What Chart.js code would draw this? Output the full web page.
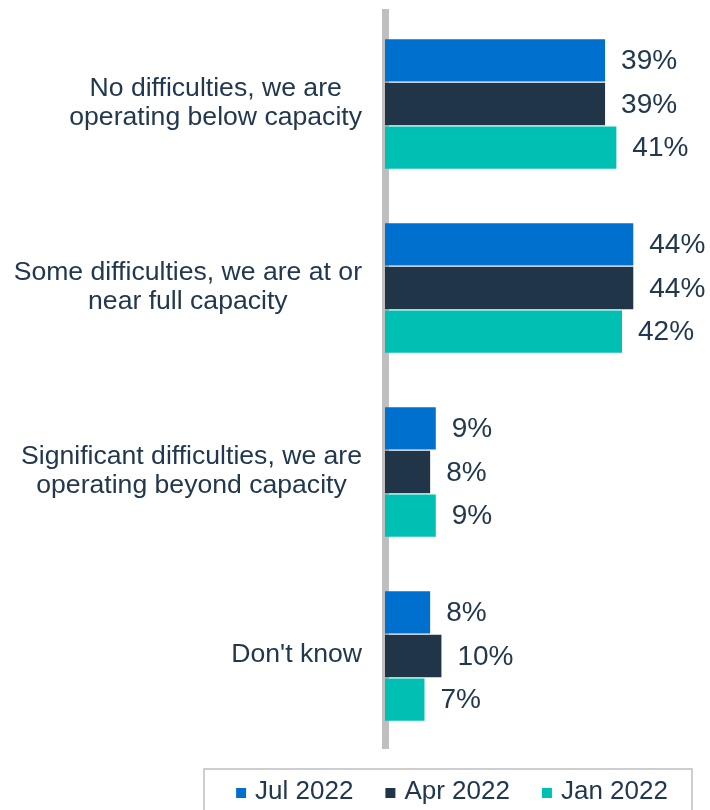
<!DOCTYPE html>
<html>
<head>
<meta charset="utf-8">
<title>Capacity difficulties</title>
<script src="https://cdn.jsdelivr.net/npm/chart.js@4.4.1/dist/chart.umd.min.js"></script>
<style>
  html, body { margin: 0; padding: 0; background: #ffffff; }
  #wrap { width: 710px; height: 810px; position: relative; }
</style>
</head>
<body>
<div id="wrap"><canvas id="myChart"></canvas></div>
<script>
var categories = [
    ['No difficulties, we are', 'operating below capacity'],
    ['Some difficulties, we are at or', 'near full capacity'],
    ['Significant difficulties, we are', 'operating beyond capacity'],
    ["Don't know"]
];
var seriesNames = ['Jul 2022', 'Apr 2022', 'Jan 2022'];
var jul2022 = [39, 44, 9, 8];
var apr2022 = [39, 44, 8, 10];
var jan2022 = [41, 42, 9, 7];
var seriesColors = ['#0070ce', '#203548', '#00bfb3'];

var FONT = "'Liberation Sans', Arial, sans-serif";
var TEXT = '#22384f';

// category names: each block right-aligned to the axis, lines centred within the block
var categoryLabels = {
    id: 'categoryLabels',
    afterDraw: function (chart) {
        var ctx = chart.ctx;
        var yScale = chart.scales.y;
        var right = yScale.right - 23;
        var lineH = 29.5;
        ctx.save();
        ctx.font = '26.6px ' + FONT;
        ctx.fillStyle = TEXT;
        ctx.textAlign = 'center';
        ctx.textBaseline = 'middle';
        chart.data.labels.forEach(function (lines, i) {
            var w = Math.max.apply(null, lines.map(function (l) { return ctx.measureText(l).width; }));
            var cx = right - w / 2;
            var cy = yScale.getPixelForTick(i) - (lines.length - 1) * lineH / 2 - 1;
            lines.forEach(function (l, k) {
                ctx.fillText(l, cx, cy + k * lineH);
            });
        });
        ctx.restore();
    }
};

// value labels at the end of each bar
var barLabels = {
    id: 'barLabels',
    afterDatasetsDraw: function (chart) {
        var ctx = chart.ctx;
        ctx.save();
        ctx.font = '28px ' + FONT;
        ctx.fillStyle = TEXT;
        ctx.textAlign = 'left';
        ctx.textBaseline = 'middle';
        chart.data.datasets.forEach(function (ds, i) {
            chart.getDatasetMeta(i).data.forEach(function (bar, j) {
                ctx.fillText(ds.data[j] + '%', bar.x + 16, bar.y + 1);
            });
        });
        ctx.restore();
    }
};

// boxed legend under the chart
var boxLegend = {
    id: 'boxLegend',
    afterDraw: function (chart) {
        var ctx = chart.ctx;
        var cy = 792;
        var gap = 32;
        ctx.save();
        ctx.strokeStyle = '#bfbfbf';
        ctx.lineWidth = 1.5;
        ctx.strokeRect(204, 769, 488, 60);

        ctx.font = '26px ' + FONT;
        var items = chart.data.datasets.map(function (ds) {
            return { text: ds.label, color: ds.backgroundColor, w: 19 + ctx.measureText(ds.label).width };
        });
        var total = items.reduce(function (s, it) { return s + it.w; }, 0) + gap * (items.length - 1);
        var x = 452 - total / 2;
        ctx.textBaseline = 'middle';
        items.forEach(function (it) {
            ctx.fillStyle = it.color;
            ctx.fillRect(x, cy - 4, 10, 10);
            ctx.fillStyle = TEXT;
            ctx.fillText(it.text, x + 19, cy);
            x += it.w + gap;
        });
        ctx.restore();
    }
};

var ctx = document.getElementById('myChart').getContext('2d');
new Chart(ctx, {
    type: 'bar',
    data: {
        labels: categories,
        datasets: [
            { label: seriesNames[0], data: jul2022, backgroundColor: seriesColors[0] },
            { label: seriesNames[1], data: apr2022, backgroundColor: seriesColors[1] },
            { label: seriesNames[2], data: jan2022, backgroundColor: seriesColors[2] }
        ]
    },
    options: {
        indexAxis: 'y',
        responsive: true,
        maintainAspectRatio: false,
        animation: false,
        datasets: {
            bar: { categoryPercentage: 0.712, barPercentage: 0.97, borderWidth: 0 }
        },
        layout: { padding: { top: 12, bottom: 62, right: 9, left: 0 } },
        plugins: {
            legend: { display: false },
            tooltip: { enabled: false }
        },
        scales: {
            x: {
                display: false,
                min: 0,
                max: 56
            },
            y: {
                z: 1,
                grid: { display: false, drawTicks: false },
                border: { display: true, color: '#bfbfbf', width: 7 },
                ticks: { display: false },
                afterFit: function (scale) {
                    scale.width = 385;
                    scale.paddingTop = 0;
                    scale.paddingBottom = 0;
                }
            }
        }
    },
    plugins: [barLabels, categoryLabels, boxLegend]
});
</script>
</body>
</html>
